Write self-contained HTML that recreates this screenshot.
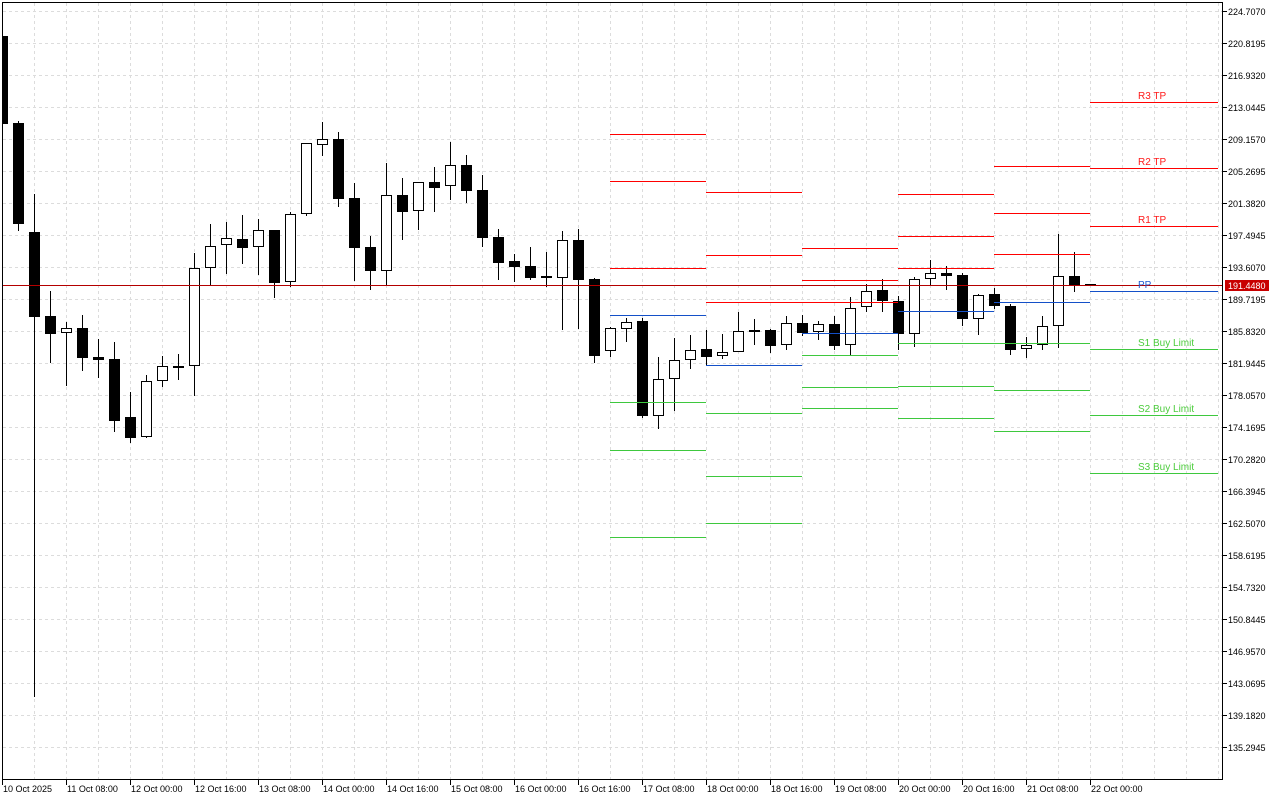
<!DOCTYPE html>
<html><head><meta charset="utf-8"><style>
html,body{margin:0;padding:0;background:#fff;}
svg{display:block;}
text{font-family:"Liberation Sans",Arial,sans-serif;}
</style></head><body>
<svg width="1280" height="800" viewBox="0 0 1280 800" xmlns="http://www.w3.org/2000/svg">
<rect x="0" y="0" width="1280" height="800" fill="#fff"/>
<defs><clipPath id="pa"><rect x="3" y="3" width="1219" height="776"/></clipPath></defs>
<!-- grid -->
<g stroke="#dcdcdc" stroke-width="1" stroke-dasharray="3,3" shape-rendering="crispEdges">
<path d="M3 11.5H1222M3 43.5H1222M3 75.5H1222M3 107.5H1222M3 139.5H1222M3 171.5H1222M3 203.5H1222M3 235.5H1222M3 267.5H1222M3 299.5H1222M3 331.5H1222M3 363.5H1222M3 395.5H1222M3 427.5H1222M3 459.5H1222M3 491.5H1222M3 523.5H1222M3 555.5H1222M3 587.5H1222M3 619.5H1222M3 651.5H1222M3 683.5H1222M3 715.5H1222M3 747.5H1222"/>
<path d="M34.5 3V779M66.5 3V779M98.5 3V779M130.5 3V779M162.5 3V779M194.5 3V779M226.5 3V779M258.5 3V779M290.5 3V779M322.5 3V779M354.5 3V779M386.5 3V779M418.5 3V779M450.5 3V779M482.5 3V779M514.5 3V779M546.5 3V779M578.5 3V779M610.5 3V779M642.5 3V779M674.5 3V779M706.5 3V779M738.5 3V779M770.5 3V779M802.5 3V779M834.5 3V779M866.5 3V779M898.5 3V779M930.5 3V779M962.5 3V779M994.5 3V779M1026.5 3V779M1058.5 3V779M1090.5 3V779M1122.5 3V779M1154.5 3V779M1186.5 3V779M1218.5 3V779"/>
</g>
<g clip-path="url(#pa)" shape-rendering="crispEdges">
<!-- wicks -->
<path stroke="#000" stroke-width="1" fill="none" d="M18.5 121V231M34.5 194V697M50.5 291V363M66.5 322V386M82.5 315V371M98.5 339V378M114.5 342V432M130.5 392V443M146.5 375V438M162.5 356V387M178.5 354V380M194.5 253V396M210.5 224V285M226.5 222V274M242.5 215V264M258.5 219V275M274.5 230V298M290.5 212V287M306.5 143V216M322.5 122V156M338.5 132V207M354.5 183V281M370.5 236V290M386.5 163V285M402.5 178V240M418.5 182V230M434.5 167V212M450.5 142V200M466.5 155V203M482.5 175V247M498.5 229V280M514.5 254V282M530.5 247V280M546.5 252V287M562.5 231V330M578.5 229V329M594.5 278V363M610.5 327V357M626.5 318V342M642.5 318V418M658.5 357V429M674.5 338V411M690.5 335V369M706.5 330V366M722.5 334V359M738.5 312V352M754.5 319V345M770.5 329V353M786.5 316V350M802.5 315V336M818.5 321V340M834.5 316V350M850.5 297V355M866.5 284V312M882.5 279V312M898.5 296V350M914.5 277V347M930.5 260V285M946.5 266V290M962.5 273V326M978.5 294V335M994.5 288V309M1010.5 304V355M1026.5 337V358M1042.5 316V350M1058.5 234V348M1074.5 252V292"/>
<!-- black bodies -->
<g fill="#000">
<rect x="-3" y="36" width="11" height="88"/>
<rect x="13" y="123" width="11" height="101"/>
<rect x="29" y="232" width="11" height="85"/>
<rect x="45" y="316" width="11" height="18"/>
<rect x="77" y="328" width="11" height="30"/>
<rect x="93" y="357" width="11" height="3"/>
<rect x="109" y="359" width="11" height="62"/>
<rect x="125" y="417" width="11" height="21"/>
<rect x="173" y="366" width="11" height="2"/>
<rect x="237" y="239" width="11" height="9"/>
<rect x="269" y="230" width="11" height="53"/>
<rect x="333" y="139" width="11" height="60"/>
<rect x="349" y="198" width="11" height="50"/>
<rect x="365" y="247" width="11" height="24"/>
<rect x="397" y="195" width="11" height="17"/>
<rect x="429" y="182" width="11" height="6"/>
<rect x="461" y="165" width="11" height="26"/>
<rect x="477" y="190" width="11" height="48"/>
<rect x="493" y="237" width="11" height="26"/>
<rect x="509" y="261" width="11" height="6"/>
<rect x="525" y="266" width="11" height="12"/>
<rect x="541" y="276" width="11" height="2"/>
<rect x="573" y="240" width="11" height="40"/>
<rect x="589" y="279" width="11" height="77"/>
<rect x="637" y="321" width="11" height="95"/>
<rect x="701" y="349" width="11" height="8"/>
<rect x="749" y="330" width="11" height="2"/>
<rect x="765" y="330" width="11" height="16"/>
<rect x="797" y="323" width="11" height="10"/>
<rect x="829" y="324" width="11" height="22"/>
<rect x="877" y="290" width="11" height="11"/>
<rect x="893" y="301" width="11" height="33"/>
<rect x="941" y="273" width="11" height="3"/>
<rect x="957" y="275" width="11" height="44"/>
<rect x="989" y="294" width="11" height="12"/>
<rect x="1005" y="306" width="11" height="44"/>
<rect x="1069" y="276" width="11" height="9"/>
<rect x="1085" y="284" width="11" height="2"/>
</g>
<!-- white bodies -->
<g fill="#fff" stroke="#000" stroke-width="1">
<rect x="61.5" y="328.5" width="10" height="4"/>
<rect x="141.5" y="381.5" width="10" height="55"/>
<rect x="157.5" y="366.5" width="10" height="14"/>
<rect x="189.5" y="268.5" width="10" height="97"/>
<rect x="205.5" y="246.5" width="10" height="21"/>
<rect x="221.5" y="238.5" width="10" height="6"/>
<rect x="253.5" y="230.5" width="10" height="16"/>
<rect x="285.5" y="214.5" width="10" height="67"/>
<rect x="301.5" y="143.5" width="10" height="70"/>
<rect x="317.5" y="139.5" width="10" height="5"/>
<rect x="381.5" y="195.5" width="10" height="75"/>
<rect x="413.5" y="182.5" width="10" height="28"/>
<rect x="445.5" y="165.5" width="10" height="20"/>
<rect x="557.5" y="240.5" width="10" height="37"/>
<rect x="605.5" y="328.5" width="10" height="22"/>
<rect x="621.5" y="322.5" width="10" height="6"/>
<rect x="653.5" y="379.5" width="10" height="36"/>
<rect x="669.5" y="360.5" width="10" height="18"/>
<rect x="685.5" y="350.5" width="10" height="9"/>
<rect x="717.5" y="352.5" width="10" height="3"/>
<rect x="733.5" y="331.5" width="10" height="20"/>
<rect x="781.5" y="323.5" width="10" height="21"/>
<rect x="813.5" y="324.5" width="10" height="7"/>
<rect x="845.5" y="308.5" width="10" height="36"/>
<rect x="861.5" y="291.5" width="10" height="15"/>
<rect x="909.5" y="279.5" width="10" height="54"/>
<rect x="925.5" y="273.5" width="10" height="5"/>
<rect x="973.5" y="295.5" width="10" height="23"/>
<rect x="1021.5" y="345.5" width="10" height="3"/>
<rect x="1037.5" y="326.5" width="10" height="18"/>
<rect x="1053.5" y="276.5" width="10" height="49"/>
</g>
<!-- level lines -->
<path stroke="#ff0000" stroke-width="1" fill="none" d="M610 134.5H706M610 181.5H706M610 268.5H706M706 192.5H802M706 255.5H802M706 302.5H802M802 248.5H898M802 280.5H898M802 302.5H898M898 194.5H994M898 236.5H994M898 268.5H994M994 166.5H1090M994 213.5H1090M994 254.5H1090M1090 102.5H1218M1090 168.5H1218M1090 226.5H1218"/>
<path stroke="#1450c8" stroke-width="1" fill="none" d="M610 315.5H706M706 365.5H802M802 333.5H898M898 311.5H994M994 302.5H1090M1090 291.5H1218"/>
<path stroke="#3ec83e" stroke-width="1" fill="none" d="M610 402.5H706M610 450.5H706M610 537.5H706M706 413.5H802M706 476.5H802M706 523.5H802M802 355.5H898M802 387.5H898M802 408.5H898M898 343.5H994M898 386.5H994M898 418.5H994M994 343.5H1090M994 390.5H1090M994 431.5H1090M1090 349.5H1218M1090 415.5H1218M1090 473.5H1218"/>
<!-- current price line -->
<path stroke="#b40000" stroke-width="1" d="M3 285.5H1222"/>
</g>
<!-- level labels -->
<g font-size="10">
<text x="1138" y="99" fill="#ff1a1a">R3 TP</text>
<text x="1138" y="165" fill="#ff1a1a">R2 TP</text>
<text x="1138" y="223" fill="#ff1a1a">R1 TP</text>
<text x="1138" y="288" fill="#1e5ad2">PP</text>
<text x="1138" y="346" fill="#4ccc3c">S1 Buy Limit</text>
<text x="1138" y="412" fill="#4ccc3c">S2 Buy Limit</text>
<text x="1138" y="470" fill="#4ccc3c">S3 Buy Limit</text>
</g>
<!-- frame -->
<path stroke="#000" stroke-width="1" fill="none" shape-rendering="crispEdges" d="M2.5 2.5H1222.5V779.5H2.5Z"/>
<!-- right ticks -->
<path stroke="#000" stroke-width="1" shape-rendering="crispEdges" d="M1222 11.5H1227M1222 43.5H1227M1222 75.5H1227M1222 107.5H1227M1222 139.5H1227M1222 171.5H1227M1222 203.5H1227M1222 235.5H1227M1222 267.5H1227M1222 299.5H1227M1222 331.5H1227M1222 363.5H1227M1222 395.5H1227M1222 427.5H1227M1222 459.5H1227M1222 491.5H1227M1222 523.5H1227M1222 555.5H1227M1222 587.5H1227M1222 619.5H1227M1222 651.5H1227M1222 683.5H1227M1222 715.5H1227M1222 747.5H1227"/>
<!-- bottom ticks -->
<path stroke="#000" stroke-width="1" shape-rendering="crispEdges" d="M2.5 779V785M66.5 779V785M130.5 779V785M194.5 779V785M258.5 779V785M322.5 779V785M386.5 779V785M450.5 779V785M514.5 779V785M578.5 779V785M642.5 779V785M706.5 779V785M770.5 779V785M834.5 779V785M898.5 779V785M962.5 779V785M1026.5 779V785M1090.5 779V785"/>
<g font-size="9" fill="#000">
<text x="1228" y="15">224.7070</text>
<text x="1228" y="47">220.8195</text>
<text x="1228" y="79">216.9320</text>
<text x="1228" y="111">213.0445</text>
<text x="1228" y="143">209.1570</text>
<text x="1228" y="175">205.2695</text>
<text x="1228" y="207">201.3820</text>
<text x="1228" y="239">197.4945</text>
<text x="1228" y="271">193.6070</text>
<text x="1228" y="303">189.7195</text>
<text x="1228" y="335">185.8320</text>
<text x="1228" y="367">181.9445</text>
<text x="1228" y="399">178.0570</text>
<text x="1228" y="431">174.1695</text>
<text x="1228" y="463">170.2820</text>
<text x="1228" y="495">166.3945</text>
<text x="1228" y="527">162.5070</text>
<text x="1228" y="559">158.6195</text>
<text x="1228" y="591">154.7320</text>
<text x="1228" y="623">150.8445</text>
<text x="1228" y="655">146.9570</text>
<text x="1228" y="687">143.0695</text>
<text x="1228" y="719">139.1820</text>
<text x="1228" y="751">135.2945</text>
</g>
<rect x="1225" y="280" width="44" height="11" fill="#c80000"/>
<text x="1228" y="289" font-size="9" fill="#fff">191.4480</text>
<g font-size="9" fill="#000">
<text x="3" y="792">10 Oct 2025</text>
<text x="67" y="792">11 Oct 08:00</text>
<text x="131" y="792">12 Oct 00:00</text>
<text x="195" y="792">12 Oct 16:00</text>
<text x="259" y="792">13 Oct 08:00</text>
<text x="323" y="792">14 Oct 00:00</text>
<text x="387" y="792">14 Oct 16:00</text>
<text x="451" y="792">15 Oct 08:00</text>
<text x="515" y="792">16 Oct 00:00</text>
<text x="579" y="792">16 Oct 16:00</text>
<text x="643" y="792">17 Oct 08:00</text>
<text x="707" y="792">18 Oct 00:00</text>
<text x="771" y="792">18 Oct 16:00</text>
<text x="835" y="792">19 Oct 08:00</text>
<text x="899" y="792">20 Oct 00:00</text>
<text x="963" y="792">20 Oct 16:00</text>
<text x="1027" y="792">21 Oct 08:00</text>
<text x="1091" y="792">22 Oct 00:00</text>
</g>
</svg>
</body></html>
